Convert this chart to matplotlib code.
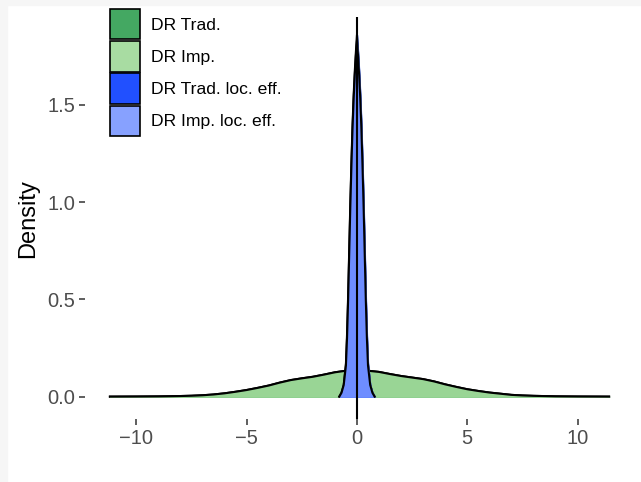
import matplotlib.pyplot as plt
from matplotlib.patches import Patch, Rectangle

plt.rcParams['font.family'] = ['Liberation Sans', 'DejaVu Sans']

# wide densities (DR Trad. / DR Imp.)
x_wide = [-11.2, -10, -9, -8.5, -8, -7.5, -7, -6.5, -6, -5.5, -5, -4.5, -4, -3.5, -3,
          -2.5, -2, -1.5, -1, -0.5, 0, 0.5, 1, 1.5, 2, 2.5, 3, 3.5, 4, 4.5, 5,
          5.5, 6, 6.5, 7, 7.5, 8, 9, 10, 11.43]
dr_trad = [0, 0.0005, 0.0012, 0.002, 0.003, 0.0045, 0.007, 0.011, 0.017, 0.025, 0.034,
           0.045, 0.057, 0.072, 0.085, 0.094, 0.102, 0.113, 0.125, 0.133, 0.135, 0.133,
           0.127, 0.116, 0.106, 0.098, 0.09, 0.078, 0.063, 0.05, 0.038, 0.029, 0.021,
           0.015, 0.009, 0.006, 0.004, 0.0015, 0.0006, 0]
dr_imp = dr_trad

# narrow densities (local efficient)
x_narrow = [-0.8, -0.7, -0.6, -0.5, -0.45, -0.4, -0.35, -0.3, -0.25, -0.2, -0.15, -0.1, -0.05,
            0, 0.05, 0.1, 0.15, 0.2, 0.25, 0.3, 0.35, 0.4, 0.45, 0.5, 0.6, 0.7, 0.8]
dr_trad_loc = [0, 0.02, 0.06, 0.17, 0.32, 0.52, 0.76, 1.0, 1.21, 1.40, 1.55, 1.67, 1.77,
               1.86, 1.77, 1.67, 1.55, 1.40, 1.21, 1.0, 0.76, 0.52, 0.32, 0.17, 0.06, 0.02, 0]
dr_imp_loc = [0, 0.02, 0.06, 0.16, 0.30, 0.50, 0.74, 0.98, 1.19, 1.38, 1.53, 1.65, 1.75,
              1.83, 1.75, 1.65, 1.53, 1.38, 1.19, 0.98, 0.74, 0.50, 0.30, 0.16, 0.06, 0.02, 0]

labels = ['DR Trad.', 'DR Imp.', 'DR Trad. loc. eff.', 'DR Imp. loc. eff.']
colors = ['#41a85f', '#99d595', '#1f4fff', '#6e8dff']
key_colors = ['#44a862', '#a8dca2', '#2150ff', '#87a1ff']

fig = plt.figure(figsize=(6.41, 4.82), dpi=100)
ax = fig.add_axes([85 / 641, 1 - 419 / 482, (634 - 85) / 641, (419 - 17.3) / 482])

lw = 1.5
ax.fill_between(x_wide, dr_trad, color=colors[0], zorder=1)
ax.plot(x_wide, dr_trad, color='black', lw=lw, zorder=2)
ax.fill_between(x_wide, dr_imp, color=colors[1], zorder=3)
ax.plot(x_wide, dr_imp, color='black', lw=lw, zorder=4)
ax.fill_between(x_narrow, dr_trad_loc, color=colors[2], zorder=5)
ax.plot(x_narrow, dr_trad_loc, color='black', lw=lw, zorder=6)
ax.fill_between(x_narrow, dr_imp_loc, color=colors[3], zorder=7)
ax.plot(x_narrow, dr_imp_loc, color='black', lw=lw, zorder=8)
ax.axvline(0, color='black', lw=1.5, zorder=9)

ax.set_xlim(-12.33, 12.56)
ax.set_ylim(-0.115, 1.95)
ax.set_xticks([-10, -5, 0, 5, 10])
ax.set_xticklabels(['\u221210', '\u22125', '0', '5', '10'])
ax.set_yticks([0.0, 0.5, 1.0, 1.5])
ax.set_yticklabels(['0.0', '0.5', '1.0', '1.5'])
for s in ax.spines.values():
    s.set_visible(False)
ax.tick_params(length=4, width=1.1, color='#333333', labelcolor='#4d4d4d',
               labelsize=14.5, pad=3)
ax.set_ylabel('Density', fontsize=17, color='black', labelpad=6)

handles = [Patch(facecolor=c, edgecolor='black', lw=1.2) for c in key_colors]
fig.legend(handles, labels, loc='upper left', bbox_to_anchor=(110 / 641, 1 - 9 / 482),
           frameon=False, fontsize=12.6, handlelength=1.7, handleheight=2.3,
           handletextpad=0.65, labelspacing=0.1, borderpad=0, borderaxespad=0)

# light grey screenshot margins
fig.patches.append(Rectangle((0, 1 - 5 / 482), 1, 5 / 482, transform=fig.transFigure,
                             color='#f6f6f6', zorder=-1))
fig.patches.append(Rectangle((0, 0), 7 / 641, 1, transform=fig.transFigure,
                             color='#f6f6f6', zorder=-1))

fig.savefig('out.png', dpi=100)
